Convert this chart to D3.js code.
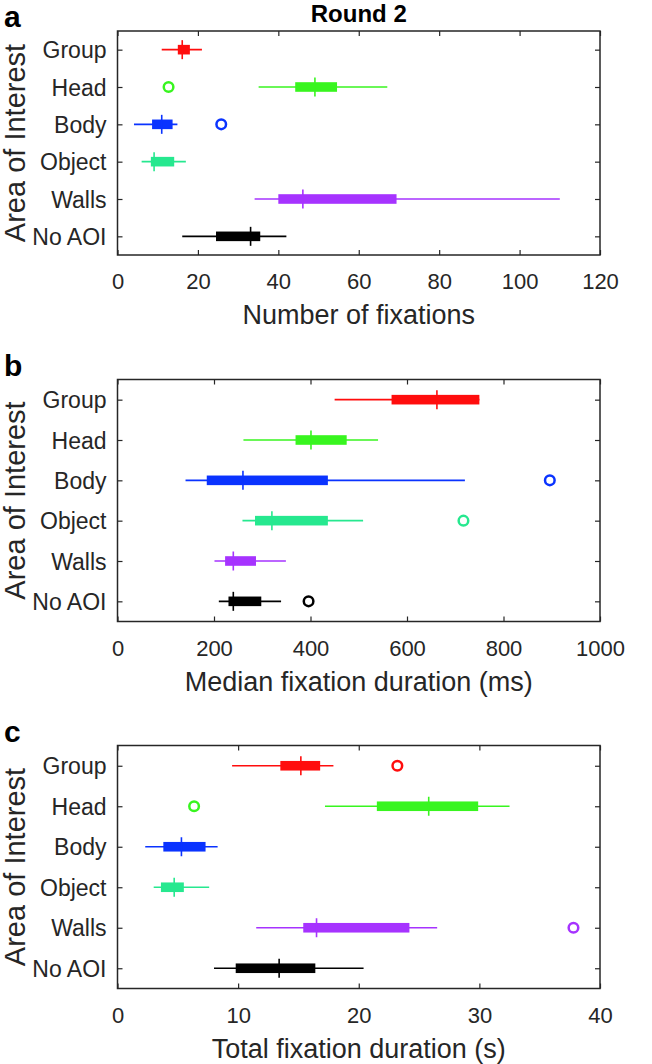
<!DOCTYPE html>
<html>
<head>
<meta charset="utf-8">
<script src="https://cdn.jsdelivr.net/npm/d3@7"></script>
<style>
  body { margin: 0; background: #fff; }
  svg { display: block; }
  text { font-family: "Liberation Sans", Arial, Helvetica, sans-serif; fill: #262626; }
</style>
</head>
<body>
<svg id="chart" width="652" height="1064"></svg>
<script>
// ---- Data ----
const categories = ["Group", "Head", "Body", "Object", "Walls", "No AOI"];
const colors = ["#ff0d0d", "#38f51f", "#0a33ff", "#26e88f", "#a633ff", "#000000"];

// Panel a: Number of fixations  [whiskerLow, q1, median, q3, whiskerHigh]
const fixCountStats = [
  [11.0, 15.0, 16.1, 18.0, 21.0],
  [35.1, 44.2, 49.1, 54.6, 67.1],
  [4.1, 8.6, 11.0, 13.7, 14.9],
  [6.0, 8.3, 9.1, 14.1, 17.0],
  [34.1, 40.0, 46.1, 69.4, 110.0],
  [16.1, 24.5, 33.1, 35.5, 42.0]
];
const fixCountOutliers = [[], [12.7], [25.8], [], [], []];
const fixCountTicks = [0, 20, 40, 60, 80, 100, 120];

// Panel b: Median fixation duration (ms)
const medDurStats = [
  [450, 568, 662, 750, 750],
  [261, 369, 401, 475, 540],
  [141, 185, 260, 436, 720],
  [259, 285, 320, 436, 509],
  [201, 223, 240, 287, 349],
  [210, 230, 240, 298, 339]
];
const medDurOutliers = [[], [], [896], [717], [], [396]];
const medDurTicks = [0, 200, 400, 600, 800, 1000];

// Panel c: Total fixation duration (s)
const totDurStats = [
  [9.5, 13.5, 15.2, 16.8, 17.9],
  [17.2, 21.5, 25.8, 29.9, 32.5],
  [2.3, 3.8, 5.3, 7.3, 8.3],
  [3.0, 3.6, 4.7, 5.5, 7.6],
  [11.5, 15.4, 16.5, 24.2, 26.5],
  [8.0, 9.8, 13.4, 16.4, 20.4]
];
const totDurOutliers = [[23.2], [6.35], [], [], [37.8], []];
const totDurTicks = [0, 10, 20, 30, 40];

const panels = [
  { letter: "a", xlabel: "Number of fixations", stats: fixCountStats, outliers: fixCountOutliers, ticks: fixCountTicks, top: 31, height: 224 },
  { letter: "b", xlabel: "Median fixation duration (ms)", stats: medDurStats, outliers: medDurOutliers, ticks: medDurTicks, top: 379.5, height: 242 },
  { letter: "c", xlabel: "Total fixation duration (s)", stats: totDurStats, outliers: totDurOutliers, ticks: totDurTicks, top: 745.5, height: 243 }
];

const svg = d3.select("#chart");
const left = 117.5, right = 600;
const axisColor = "#262626";

svg.append("text")
  .attr("x", (left + right) / 2).attr("y", 22)
  .attr("text-anchor", "middle")
  .style("font-size", "24px").style("font-weight", "bold").style("fill", "#000")
  .text("Round 2");

panels.forEach(p => {
  const g = svg.append("g");
  const x = d3.scaleLinear().domain([p.ticks[0], p.ticks[p.ticks.length - 1]]).range([left, right]);
  const y = d3.scaleLinear().domain([0.5, 6.5]).range([p.top, p.top + p.height]);
  const bottom = p.top + p.height;

  // axes with inward ticks
  const tickLen = 5;
  const ax = g.append("g").attr("transform", `translate(0,${bottom})`)
    .call(d3.axisBottom(x).tickValues(p.ticks).tickFormat(d3.format("d")).tickSizeInner(-tickLen).tickSizeOuter(0).tickPadding(0));
  ax.selectAll("text").attr("y", 34).attr("dy", 0).style("font-size", "22px");
  g.append("g").attr("transform", `translate(0,${p.top})`)
    .call(d3.axisTop(x).tickValues(p.ticks).tickSizeInner(-tickLen).tickSizeOuter(0).tickFormat(""));
  const ay = g.append("g").attr("transform", `translate(${left},0)`)
    .call(d3.axisLeft(y).tickValues([1, 2, 3, 4, 5, 6]).tickFormat(i => categories[i - 1]).tickSizeInner(-tickLen).tickSizeOuter(0));
  ay.selectAll("text").attr("x", -11).attr("dy", "0.35em").style("font-size", "23px");
  g.append("g").attr("transform", `translate(${right},0)`)
    .call(d3.axisRight(y).tickValues([1, 2, 3, 4, 5, 6]).tickSizeInner(-tickLen).tickSizeOuter(0).tickFormat(""));
  g.selectAll(".domain").remove();
  g.selectAll(".tick line").attr("stroke", axisColor).attr("stroke-width", 1.2);
  g.selectAll(".tick text").style("fill", axisColor).style("font-family", '"Liberation Sans", Arial, sans-serif');

  g.append("rect").attr("x", left).attr("y", p.top)
    .attr("width", right - left).attr("height", p.height)
    .attr("fill", "none").attr("stroke", axisColor).attr("stroke-width", 1.5);

  // boxes
  p.stats.forEach((s, i) => {
    const cy = y(i + 1);
    const c = colors[i];
    g.append("line").attr("x1", x(s[0])).attr("x2", x(s[4])).attr("y1", cy).attr("y2", cy)
      .attr("stroke", c).attr("stroke-width", 1.6);
    g.append("rect").attr("x", x(s[1])).attr("y", cy - 4.8)
      .attr("width", x(s[3]) - x(s[1])).attr("height", 9.6).attr("fill", c);
    g.append("line").attr("x1", x(s[2])).attr("x2", x(s[2])).attr("y1", cy - 9.5).attr("y2", cy + 9.5)
      .attr("stroke", c).attr("stroke-width", 1.6);
    p.outliers[i].forEach(o => {
      g.append("circle").attr("cx", x(o)).attr("cy", cy).attr("r", 4.8)
        .attr("fill", "none").attr("stroke", c).attr("stroke-width", 2.5);
    });
  });

  // labels
  g.append("text").attr("x", (left + right) / 2).attr("y", bottom + 69)
    .attr("text-anchor", "middle").style("font-size", "27px").text(p.xlabel);
  g.append("text")
    .attr("transform", `translate(25,${p.top + p.height / 2}) rotate(-90)`)
    .attr("text-anchor", "middle").style("font-size", "29px").text("Area of Interest");
  g.append("text").attr("x", 4).attr("y", p.top - 4)
    .style("font-size", "30px").style("font-weight", "bold").style("fill", "#000").text(p.letter);
});
</script>
</body>
</html>
